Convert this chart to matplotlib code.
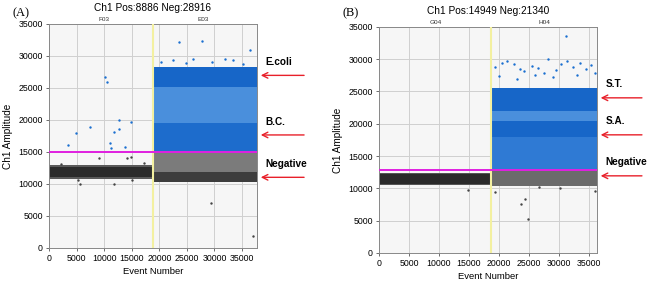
import matplotlib
matplotlib.use('Agg')
import matplotlib.pyplot as plt

plt.rcParams['font.family'] = ['Liberation Sans', 'DejaVu Sans']

# ---- panel A data (E.coli / B.C. duplex) ----
a_title = 'Ch1 Pos:8886 Neg:28916'
a_wells = ['F03', 'E03']
a_well_pos = [10000, 28000]
a_split = 18900
a_xmax = 37700
a_threshold = 15000
# bands: (x0, x1, y0, y1, colour)
a_bands = [
    (0, 18900, 10800, 13000, '#5a5a5a'),
    (0, 18900, 11100, 12600, '#2b2b2b'),
    (18900, 37700, 10300, 15000, '#7b7b7b'),
    (18900, 37700, 10300, 11900, '#3d3d3d'),
    (18900, 37700, 15000, 19600, '#1d6ccc'),
    (18900, 37700, 19600, 25200, '#4a8fdc'),
    (18900, 37700, 25200, 28300, '#1766c8'),
]
a_blue_x = [3400, 4850, 7480, 10110, 10470, 11000, 11250, 11720, 12690, 12690, 13770, 14780,
            23570, 27820, 36490, 20300, 22400, 24800, 26100, 29600, 31900, 35100, 33400]
a_blue_y = [16080, 17930, 18970, 26760, 25910, 16400, 15610, 18190, 19980, 18660, 15720, 19710,
            32120, 32280, 30860, 29100, 29400, 28900, 29600, 29000, 29500, 28800, 29300]
a_grey_x = [9150, 14120, 14800, 5330, 5620, 11720, 15110, 29380, 36980, 2100, 17200]
a_grey_y = [14030, 14030, 14290, 10570, 10040, 10040, 10650, 7050, 1890, 13100, 13200]
a_targets = ['E.coli', 'B.C.', 'Negative']
a_target_y = [26970, 17660, 11040]

# ---- panel B data (S.T. / S.A. duplex) ----
b_title = 'Ch1 Pos:14949 Neg:21340'
b_wells = ['G04', 'H04']
b_well_pos = [9500, 27500]
b_split = 18600
b_xmax = 36300
b_threshold = 12800
b_bands = [
    (0, 18600, 10500, 12400, '#555555'),
    (0, 18600, 10700, 12200, '#2a2a2a'),
    (18600, 36300, 10300, 12800, '#6b6b6b'),
    (18600, 36300, 12800, 18000, '#2f7ad4'),
    (18600, 36300, 18000, 20500, '#1766c8'),
    (18600, 36300, 20500, 22000, '#4a8fdc'),
    (18600, 36300, 22000, 25600, '#1766c8'),
]
b_blue_x = [19300, 20500, 21300, 22500, 23500, 24200, 25500, 26500, 27500, 28200, 29500,
            30300, 31300, 32300, 31170, 33500, 34500, 35400, 36000, 20000, 23000, 26000, 29000, 33000]
b_blue_y = [28860, 29400, 29640, 29200, 28500, 28100, 29000, 28700, 27900, 30000, 28300,
            29300, 29640, 28800, 33610, 29400, 28500, 29100, 27800, 27400, 27000, 27600, 27200, 27500]
b_grey_x = [14890, 19340, 23620, 24340, 24780, 26620, 30100, 36000]
b_grey_y = [9760, 9500, 7540, 8410, 5270, 10270, 10100, 9600]
b_targets = ['S.T.', 'S.A.', 'Negative']
b_target_y = [24010, 18280, 11930]

fig = plt.figure(figsize=(6.58, 2.89), dpi=100)


def draw_panel(rect, title, wells, well_pos, split, xmax, threshold, bands,
               blue_x, blue_y, grey_x, grey_y, targets, target_y, letter, tail):
    ax = fig.add_axes(rect)
    ax.set_facecolor('#f6f6f6')
    ax.set_xlim(0, xmax)
    ax.set_ylim(0, 35000)
    ax.set_xticks(range(0, 36000, 5000))
    ax.set_yticks(range(0, 36000, 5000))
    ax.grid(True, color='#cfcfcf', lw=0.7)
    ax.set_axisbelow(True)
    for x0, x1, y0, y1, c in bands:
        ax.fill_between([x0, x1], y0, y1, color=c, lw=0, zorder=2)
    ax.axvline(split, color='#f3f0a0', lw=1.5, zorder=3)
    ax.axhline(threshold, color='#e020e0', lw=1.4, zorder=4)
    ax.scatter(blue_x, blue_y, s=3, color='#1a6fd0', lw=0, zorder=5)
    ax.scatter(grey_x, grey_y, s=3, color='#444444', lw=0, zorder=5)
    ax.tick_params(labelsize=6.3, length=2.5, width=0.6, color='#555555', pad=2)
    for s in ax.spines.values():
        s.set_color('#888888')
        s.set_linewidth(0.7)
    ax.set_xlabel('Event Number', fontsize=6.8, labelpad=3)
    ax.set_ylabel('Ch1 Amplitude', fontsize=7.2, labelpad=4)
    ax.set_title(title, fontsize=7.3, pad=9)
    for w, p in zip(wells, well_pos):
        ax.text(p, 35300, w, fontsize=4.6, ha='center', va='bottom', color='#333333')
    for t, y in zip(targets, target_y):
        ax.annotate('', xy=(1.005, y), xycoords=('axes fraction', 'data'),
                    xytext=(tail, y), textcoords=('axes fraction', 'data'),
                    arrowprops=dict(arrowstyle='->', color='#e8202a', lw=1.0),
                    annotation_clip=False)
        ax.text(1.04, y + 1300, t, transform=ax.get_yaxis_transform(), fontsize=7.2,
                fontweight='bold', ha='left', va='bottom')
    fig.text(rect[0] - 0.055, 0.955, letter, fontsize=9, family='Liberation Serif',
             va='center', ha='left')
    return ax


draw_panel([0.0745, 0.142, 0.316, 0.775], a_title, a_wells, a_well_pos, a_split, a_xmax,
           a_threshold, a_bands, a_blue_x, a_blue_y, a_grey_x, a_grey_y,
           a_targets, a_target_y, '(A)', 1.24)
draw_panel([0.576, 0.125, 0.331, 0.782], b_title, b_wells, b_well_pos, b_split, b_xmax,
           b_threshold, b_bands, b_blue_x, b_blue_y, b_grey_x, b_grey_y,
           b_targets, b_target_y, '(B)', 1.22)

fig.savefig('out.png', dpi=100)
